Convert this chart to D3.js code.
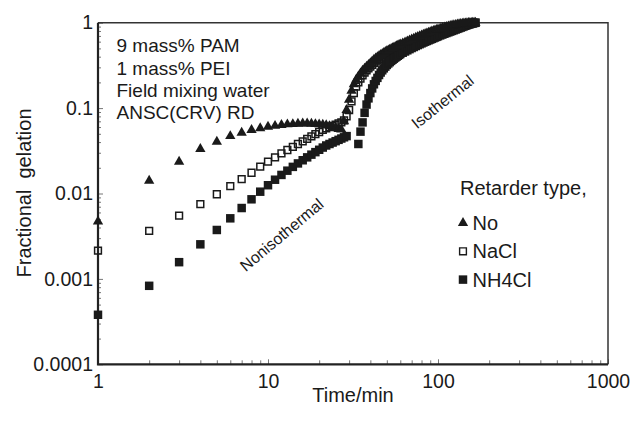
<!DOCTYPE html>
<html>
<head>
<meta charset="utf-8">
<script src="https://cdnjs.cloudflare.com/ajax/libs/d3/7.8.5/d3.min.js"></script>
<style>
body { margin: 0; background: #fff; }
text { font-family: "Liberation Sans", Arial, sans-serif; fill: #1a1a1a; }
</style>
</head>
<body>
<div id="chart-area"></div>
<script>
// gelation data (time in min, fractional gelation)
var minutesNo = [1,2,3,4,5,6,7,8,9,10,11,12,13,14,15,16,17,18,19,20,
    21,22,23,24,25,26,27,28,29,30,31,32,33,34,35,36,37,38,39,40,
    41,42,43,44,45,46,47,48,49,50,51,52,53,54,55,56,57,58,59,60,
    62,64,66,68,70,72,74,76,78,80,82,84,86,88,90,92,94,96,98,100,
    103,106,109,112,115,118,121,124,127,130,133,136,139,142,145,148,151,154,157,160,163,166];
var gelNo = [0.0047,0.0141,0.0236,0.0332,0.0404,0.047,0.0515,0.0555,0.058,0.0605,
    0.062,0.0635,0.0645,0.065,0.0655,0.066,0.066,0.0655,0.065,0.0645,
    0.064,0.063,0.0615,0.060,0.0585,0.057,0.056,0.07,0.095,0.125,
    0.16,0.19,0.215,0.235,0.255,0.275,0.29,0.305,0.32,0.335,
    0.352,0.368,0.382,0.395,0.407,0.418,0.43,0.442,0.453,0.464,
    0.474,0.484,0.493,0.502,0.511,0.52,0.529,0.538,0.547,0.555,
    0.572,0.588,0.604,0.62,0.636,0.651,0.666,0.681,0.695,0.709,
    0.723,0.737,0.75,0.763,0.776,0.788,0.80,0.812,0.824,0.835,
    0.851,0.866,0.88,0.893,0.905,0.916,0.926,0.935,0.944,0.952,0.959,
    0.966,0.972,0.977,0.982,0.986,0.99,0.993,0.996,0.998,1.0,1.0];

var minutesNaCl = minutesNo;
var gelNaCl = [0.00214,0.00366,0.0055,0.0075,0.0098,0.0122,0.0147,0.0175,0.0206,0.0236,
    0.0265,0.0295,0.0323,0.0351,0.038,0.0408,0.0437,0.0466,0.0496,0.0525,
    0.0556,0.058,0.060,0.062,0.064,0.066,0.068,0.072,0.08,0.095,
    0.12,0.15,0.178,0.2,0.222,0.242,0.26,0.276,0.291,0.306,
    0.321,0.336,0.35,0.364,0.377,0.39,0.402,0.414,0.426,0.437,
    0.448,0.458,0.468,0.478,0.488,0.497,0.506,0.515,0.524,0.532,
    0.549,0.565,0.58,0.596,0.611,0.626,0.64,0.654,0.668,0.682,
    0.695,0.708,0.721,0.734,0.746,0.758,0.77,0.782,0.793,0.804,
    0.82,0.835,0.849,0.862,0.875,0.887,0.898,0.908,0.918,0.927,0.936,
    0.944,0.952,0.959,0.966,0.972,0.978,0.983,0.988,0.992,0.996,0.999];

var minutesNH4Cl = [1,2,3,4,5,6,7,8,9,10,11,12,13,14,15,16,17,18,19,20,
    21,22,23,24,25,26,27,28,29,34,35,36,37,38,39,40,
    41,42,43,44,45,46,47,48,49,50,51,52,53,54,55,56,57,58,59,60,
    62,64,66,68,70,72,74,76,78,80,82,84,86,88,90,92,94,96,98,100,
    103,106,109,112,115,118,121,124,127,130,133,136,139,142,145,148,151,154,157,160,163,166];
var gelNH4Cl = [0.00038,0.00083,0.00157,0.00254,0.00374,0.00512,0.00676,0.00855,0.0105,0.0125,
    0.0145,0.0165,0.0185,0.0205,0.0225,0.0245,0.0265,0.0285,0.0305,0.0325,
    0.0345,0.0365,0.038,0.0395,0.041,0.0425,0.044,0.0455,0.047,
    0.038,0.053,0.068,0.088,0.11,0.13,0.15,
    0.17,0.19,0.208,0.226,0.244,0.261,0.277,0.292,0.306,0.32,
    0.333,0.345,0.357,0.368,0.379,0.39,0.40,0.41,0.42,0.43,
    0.445,0.46,0.475,0.49,0.505,0.519,0.533,0.547,0.56,0.573,
    0.586,0.599,0.611,0.623,0.635,0.647,0.659,0.671,0.683,0.694,
    0.71,0.726,0.742,0.757,0.772,0.787,0.802,0.817,0.832,0.847,0.862,
    0.877,0.892,0.907,0.921,0.935,0.948,0.96,0.971,0.981,0.99,0.998];

var xMajor = [1, 10, 100, 1000];
var xLabels = ["1", "10", "100", "1000"];
var yMajor = [0.0001, 0.001, 0.01, 0.1, 1];
var yLabels = ["0.0001", "0.001", "0.01", "0.1", "1"];
var notes = ["9 mass% PAM", "1 mass% PEI", "Field mixing water", "ANSC(CRV) RD"];
var retarders = ["No", "NaCl", "NH4Cl"];

var margin = { left: 98, right: 24, top: 22.7, bottom: 58.7 };
var width = 632 - margin.left - margin.right,
    height = 423 - margin.top - margin.bottom;
var ink = "#1a1a1a";

var svg = d3.select("#chart-area")
    .append("svg")
    .attr("width", 632)
    .attr("height", 423);
var g = svg.append("g")
    .attr("transform", "translate(" + margin.left + "," + margin.top + ")");

var x = d3.scaleLog().domain([1, 1000]).range([0, width]);
var y = d3.scaleLog().domain([0.0001, 1]).range([height, 0]);

function isMajor(d) {
    var l = Math.log10(d);
    return Math.abs(l - Math.round(l)) < 1e-6;
}

// axes with inward ticks
var xG = g.append("g")
    .attr("transform", "translate(0," + height + ")")
    .call(d3.axisBottom(x)
        .tickValues(x.ticks())
        .tickSizeOuter(0)
        .tickSizeInner(-4)
        .tickPadding(10)
        .tickFormat(function (d) {
            var i = xMajor.indexOf(d);
            return i >= 0 ? xLabels[i] : "";
        }));
var yG = g.append("g")
    .call(d3.axisLeft(y)
        .tickValues(y.ticks())
        .tickSizeOuter(0)
        .tickSizeInner(-4)
        .tickPadding(5)
        .tickFormat(function (d) {
            if (!isMajor(d)) return "";
            return yLabels[Math.round(Math.log10(d)) + 4];
        }));
[xG, yG].forEach(function (a) {
    a.select(".domain").remove();
    a.selectAll("line").attr("stroke", "#777").attr("stroke-width", 1);
    a.selectAll("text").attr("font-size", "19.5px").attr("fill", ink)
        .attr("font-family", "Liberation Sans, Arial, sans-serif");
});
yG.selectAll(".tick line").attr("x2", function (d) { return isMajor(d) ? 5 : 3; });
xG.selectAll(".tick line").attr("y2", function (d) { return isMajor(d) ? -5 : -4; });

// frame
g.append("path")
    .attr("d", "M0,0H" + width + "V" + height)
    .attr("fill", "none").attr("stroke", "#333").attr("stroke-width", 1.5);
g.append("path")
    .attr("d", "M0,0V" + height + "H" + width)
    .attr("fill", "none").attr("stroke", "#222").attr("stroke-width", 2.2);

// axis titles
g.append("text")
    .attr("x", 255)
    .attr("y", height + 38)
    .attr("font-size", "20px")
    .attr("text-anchor", "middle")
    .text("Time/min");
g.append("text")
    .attr("transform", "rotate(-90)")
    .attr("x", -(193 - margin.top))
    .attr("y", 31 - margin.left)
    .attr("font-size", "20px")
    .attr("text-anchor", "middle")
    .style("white-space", "pre")
    .text("Fractional  gelation");

// markers
var triangle = d3.symbol(d3.symbolTriangle).size(46)();
var square = d3.symbol(d3.symbolSquare).size(72)();
var openSquare = d3.symbol(d3.symbolSquare).size(46)();

function drawSeries(times, vals, path, fill, stroke) {
    g.append("g").selectAll("path")
        .data(times)
        .enter()
        .append("path")
        .attr("d", path)
        .attr("transform", function (d, i) {
            return "translate(" + x(d) + "," + y(vals[i]) + ")";
        })
        .attr("fill", fill)
        .attr("stroke", stroke)
        .attr("stroke-width", stroke === "none" ? 0 : 1.5);
}
drawSeries(minutesNaCl, gelNaCl, openSquare, "none", ink);
drawSeries(minutesNH4Cl, gelNH4Cl, square, ink, "none");
drawSeries(minutesNo, gelNo, triangle, ink, "none");

// condition notes
g.selectAll(".note")
    .data(notes)
    .enter()
    .append("text")
    .attr("class", "note")
    .attr("x", 116.5 - margin.left)
    .attr("y", function (d, i) { return 52.5 + i * 22.2 - margin.top; })
    .attr("font-size", "19px")
    .text(function (d) { return d; });

// regime labels
g.append("text")
    .attr("transform", "translate(" + (281.7 - margin.left) + "," + (234.8 - margin.top) + ") rotate(-40)")
    .attr("text-anchor", "middle")
    .attr("dy", "0.35em")
    .attr("font-size", "16px")
    .text("Nonisothermal");
g.append("text")
    .attr("transform", "translate(" + (442.5 - margin.left) + "," + (101.7 - margin.top) + ") rotate(-39)")
    .attr("text-anchor", "middle")
    .attr("dy", "0.35em")
    .attr("font-size", "16px")
    .text("Isothermal");

// legend
var lg = g.append("g").attr("transform", "translate(" + (460 - margin.left) + "," + (195 - margin.top) + ")");
lg.append("text").attr("x", 0).attr("y", 0).attr("font-size", "20px").text("Retarder type,");
var legendMarks = [
    { path: triangle, fill: ink, stroke: "none" },
    { path: openSquare, fill: "#fff", stroke: ink },
    { path: square, fill: ink, stroke: "none" }
];
var items = lg.selectAll(".item")
    .data(retarders)
    .enter()
    .append("g")
    .attr("class", "item")
    .attr("transform", function (d, i) { return "translate(0," + (35 + i * 28.3) + ")"; });
items.append("path")
    .attr("d", function (d, i) { return legendMarks[i].path; })
    .attr("transform", "translate(3,-7)")
    .attr("fill", function (d, i) { return legendMarks[i].fill; })
    .attr("stroke", function (d, i) { return legendMarks[i].stroke; })
    .attr("stroke-width", 1.4);
items.append("text")
    .attr("x", 12.5)
    .attr("font-size", "20px")
    .text(function (d) { return d; });
</script>
</body>
</html>
